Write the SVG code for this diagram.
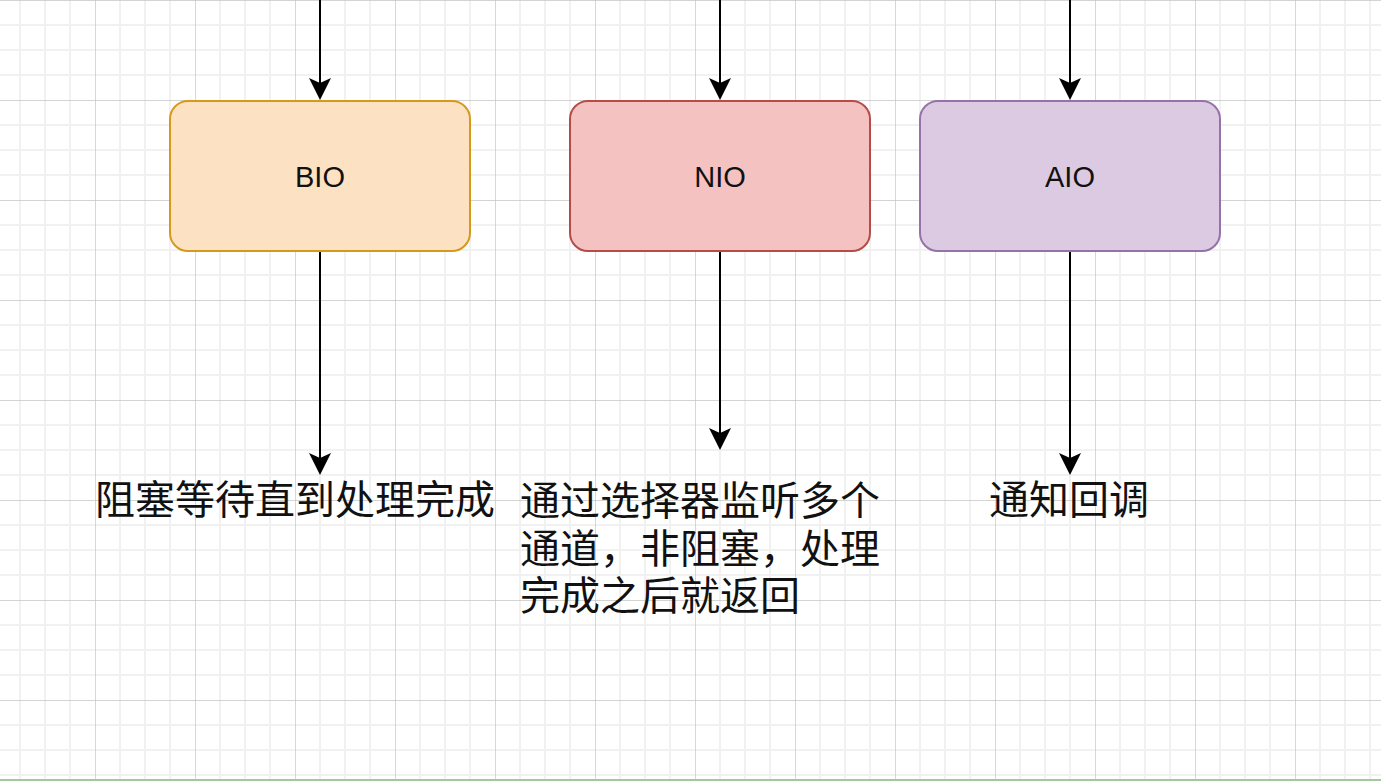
<svg xmlns="http://www.w3.org/2000/svg" width="1381" height="781" viewBox="0 0 1381 781">
<style>
.node rect{stroke-width:2}
.lbl{font-family:"Liberation Sans",Arial,sans-serif;font-size:29px;fill:#111;text-anchor:middle}
.cjk{font-family:"Noto Sans CJK SC","Noto Sans",sans-serif;font-size:40px;fill:#111}
.conn{stroke:#000;stroke-width:2;fill:none}
</style>
<defs>
<pattern id="grid" patternUnits="userSpaceOnUse" x="-5" y="0" width="100" height="100">
<path d="M25 0V100M50 0V100M75 0V100M0 25H100M0 50H100M0 75H100" stroke="#f1f1f1" stroke-width="2" fill="none"/>
<path d="M0 0V100M0 0H100" stroke="#c6c6c6" stroke-width="1.4" fill="none"/>
</pattern>
<marker id="arr" viewBox="0 0 22 22" refX="5" refY="11" markerWidth="22" markerHeight="22" markerUnits="userSpaceOnUse" orient="auto">
<path d="M0,0 L22,11 L0,22 L5,11 Z" fill="#000"/>
</marker>
</defs>
<rect width="1381" height="781" fill="#fff"/>
<rect width="1381" height="781" fill="url(#grid)"/>
<line x1="0" y1="780" x2="1381" y2="780" stroke="#a3c8a0" stroke-width="2"/>
<g id="connectors">
<path class="conn" d="M320 0V83" marker-end="url(#arr)"/>
<path class="conn" d="M720 0V83" marker-end="url(#arr)"/>
<path class="conn" d="M1070 0V83" marker-end="url(#arr)"/>
<path class="conn" d="M320 251V458" marker-end="url(#arr)"/>
<path class="conn" d="M720 251V433" marker-end="url(#arr)"/>
<path class="conn" d="M1070 251V458" marker-end="url(#arr)"/>
</g>
<g id="bio" class="node">
<rect x="170" y="101" width="300" height="150" rx="18" fill="#fde1c3" stroke="#d6991c"/>
<text class="lbl" x="320" y="187">BIO</text>
</g>
<g id="nio" class="node">
<rect x="570" y="101" width="300" height="150" rx="18" fill="#f4c2c1" stroke="#b54c48"/>
<text class="lbl" x="720" y="187">NIO</text>
</g>
<g id="aio" class="node">
<rect x="920" y="101" width="300" height="150" rx="18" fill="#dccae2" stroke="#9572a8"/>
<text class="lbl" x="1070" y="187">AIO</text>
</g>
<g id="bio-desc">
<text class="cjk" x="295" y="514" text-anchor="middle">阻塞等待直到处理完成</text>
</g>
<g id="nio-desc">
<text class="cjk"><tspan x="520" y="515">通过选择器监听多个</tspan><tspan x="520" y="563">通道，非阻塞，处理</tspan><tspan x="520" y="610">完成之后就返回</tspan></text>
</g>
<g id="aio-desc">
<text class="cjk" x="1069" y="514" text-anchor="middle">通知回调</text>
</g>
</svg>
